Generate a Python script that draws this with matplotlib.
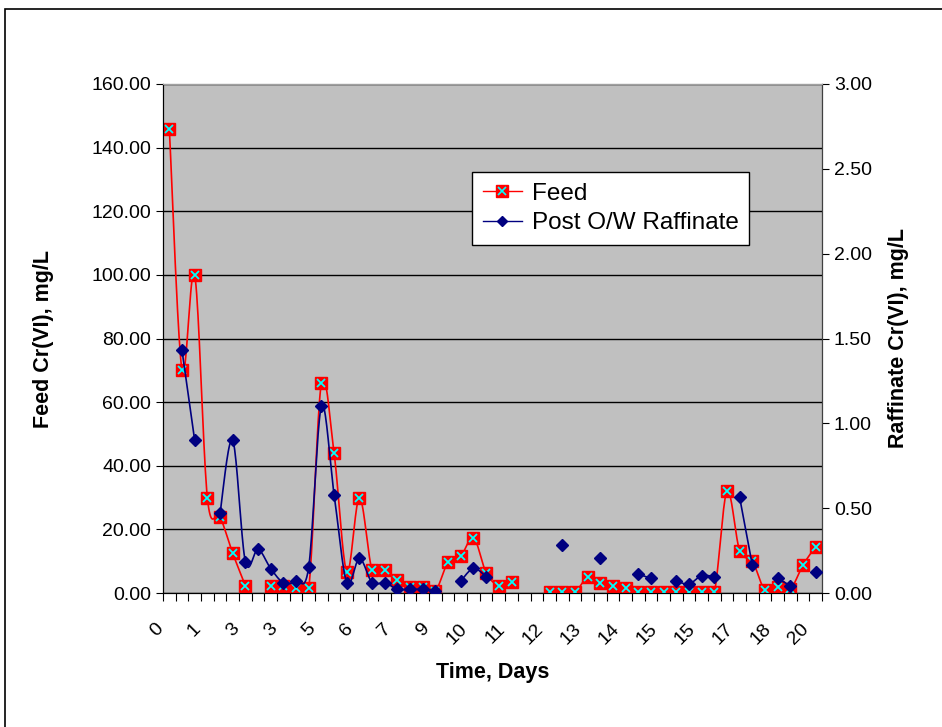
import numpy as np
import matplotlib.pyplot as plt
import matplotlib.transforms as mtrans
from matplotlib.patches import Rectangle
from matplotlib.lines import Line2D
from matplotlib.legend_handler import HandlerTuple

plt.rcParams['font.family'] = ['Liberation Sans', 'DejaVu Sans']

nan = np.nan
# one entry per sample (category axis), label shown every third sample
day_labels = ['0', '1', '3', '3', '5', '6', '7', '9', '10', '11',
              '12', '13', '14', '15', '15', '17', '18', '20']

feed = [146.0, 70.0, 100.0, 30.0, 24.0, 12.5, 2.3, nan, 2.3, 2.3,
        1.5, 1.5, 66.0, 44.0, 6.7, 30.0, 7.2, 7.2, 4.1, 2.0,
        2.0, 0.7, 9.8, 11.6, 17.4, 6.4, 2.3, 3.6, nan, nan,
        0.2, 0.2, 0.2, 4.9, 3.0, 2.3, 1.5, 0.4, 0.4, 0.4,
        0.4, 0.4, 0.2, 0.2, 32.0, 13.3, 10.1, 0.9, 2.0, 1.2,
        8.8, 14.6]

raffinate = [nan, 1.43, 0.90, nan, 0.47, 0.90, 0.185, 0.257, 0.144, 0.061,
             0.071, 0.155, 1.10, 0.58, 0.061, 0.204, 0.061, 0.061, 0.022, 0.022,
             0.022, 0.014, nan, 0.071, 0.145, 0.096, nan, nan, nan, nan,
             nan, 0.283, nan, nan, 0.204, nan, nan, 0.112, 0.086, nan,
             0.071, 0.053, 0.102, 0.096, nan, 0.564, 0.165, nan, 0.086, 0.043,
             nan, 0.126]


def smooth(x, y, n=20):
    # Excel-like smoothed line: bezier through points, gaps kept
    x = np.asarray(x, float)
    y = np.asarray(y, float)
    xs, ys = [], []
    ok = ~np.isnan(y)
    runs = []
    i = 0
    while i < len(y):
        if ok[i]:
            j = i
            while j + 1 < len(y) and ok[j + 1]:
                j += 1
            runs.append((i, j))
            i = j + 1
        else:
            i += 1
    for a, b in runs:
        px, py = x[a:b + 1], y[a:b + 1]
        for k in range(len(px) - 1):
            p0 = k - 1 if k > 0 else k
            p3 = k + 2 if k + 2 < len(px) else k + 1
            c1x = px[k] + (px[k + 1] - px[p0]) / 6
            c1y = py[k] + (py[k + 1] - py[p0]) / 6
            c2x = px[k + 1] - (px[p3] - px[k]) / 6
            c2y = py[k + 1] - (py[p3] - py[k]) / 6
            t = np.linspace(0, 1, n)
            bx = (1 - t)**3 * px[k] + 3 * (1 - t)**2 * t * c1x + 3 * (1 - t) * t**2 * c2x + t**3 * px[k + 1]
            by = (1 - t)**3 * py[k] + 3 * (1 - t)**2 * t * c1y + 3 * (1 - t) * t**2 * c2y + t**3 * py[k + 1]
            xs.extend(bx)
            ys.extend(by)
        xs.append(nan)
        ys.append(nan)
    return xs, ys


idx = np.arange(len(feed))

fig = plt.figure(figsize=(9.42, 7.27), dpi=100)
fig.patches.append(Rectangle((5 / 942, -0.1), 1.2, (727 - 9) / 727 + 0.1,
                             transform=fig.transFigure, fill=False,
                             edgecolor='black', lw=1.2))

ax = fig.add_axes([163 / 942, (727 - 593) / 727, 659 / 942, 509 / 727])
ax.set_facecolor('#C0C0C0')
ax2 = ax.twinx()

ax.set_ylim(0, 160)
ax.set_yticks(np.arange(0, 161, 20))
ax.set_yticklabels([f'{v:.2f}' for v in np.arange(0, 161, 20)])
ax.grid(axis='y', color='black', lw=1)
ax.set_axisbelow(True)

ax2.set_ylim(0, 3)
ax2.set_yticks(np.arange(0, 3.01, 0.5))
ax2.set_yticklabels([f'{v:.2f}' for v in np.arange(0, 3.01, 0.5)])

fx, fy = smooth(idx, feed)
ax.plot(fx, fy, color='red', lw=1.2, zorder=3)
ax.plot(idx, feed, ls='none', marker='s', ms=9, mfc='red', mec='red', zorder=4)
ax.plot(idx, feed, ls='none', marker='x', ms=6, mew=1.3, color='#00FFFF', zorder=5)

rx, ry = smooth(idx, raffinate)
ax2.plot(rx, ry, color='#000080', lw=1.2, zorder=3)
ax2.plot(idx, raffinate, ls='none', marker='D', ms=6, color='#000080', zorder=4)

# category ticks between samples, rotated day labels every third sample
ax.set_xticks(np.arange(-0.5, len(feed)))
ax.set_xticklabels([])
ax.set_xlim(-0.5, len(feed) - 0.5)
ax.tick_params(axis='x', length=6, color='black')
lab_tr = mtrans.offset_copy(ax.get_xaxis_transform(), fig=fig, x=-9, y=-33, units='dots')
for pos, lab in zip(idx[::3], day_labels):
    ax.text(pos, 0, lab, transform=lab_tr, rotation=45, ha='right', va='center',
            rotation_mode='anchor', fontsize=14)
ax.tick_params(axis='y', labelsize=14, length=5)
ax2.tick_params(axis='y', labelsize=14, length=5)

for s in ['left', 'bottom']:
    ax.spines[s].set_color('black')
ax2.spines['top'].set_color('#A0A0A0')
ax2.spines['right'].set_color('#404040')

ax.set_ylabel('Feed Cr(VI), mg/L', fontsize=15.5, fontweight='bold', labelpad=27)
ax2.set_ylabel('Raffinate Cr(VI), mg/L', fontsize=15.5, fontweight='bold', labelpad=12)
ax.set_xlabel('Time, Days', fontsize=15.5, fontweight='bold', labelpad=40)

feed_h = (Line2D([], [], color='red', lw=1, marker='s', ms=8.5, mfc='red', mec='red'),
          Line2D([], [], ls='none', marker='x', ms=6, mew=1.2, color='#00FFFF'))
raff_h = Line2D([], [], color='#000080', lw=1, marker='D', ms=5)
leg = ax2.legend([feed_h, raff_h], ['Feed', 'Post O/W Raffinate'],
                 handler_map={tuple: HandlerTuple(ndivide=1, pad=0)},
                 loc='upper left', borderaxespad=0,
                 bbox_to_anchor=((472 - 163) / 659, (593 - 172) / 509),
                 fontsize=17.5, frameon=True, fancybox=False, edgecolor='black',
                 framealpha=1, borderpad=0.45, handlelength=1.6,
                 handletextpad=0.4, labelspacing=0.3)
leg.get_frame().set_linewidth(1)

fig.savefig('out.png', dpi=100)
